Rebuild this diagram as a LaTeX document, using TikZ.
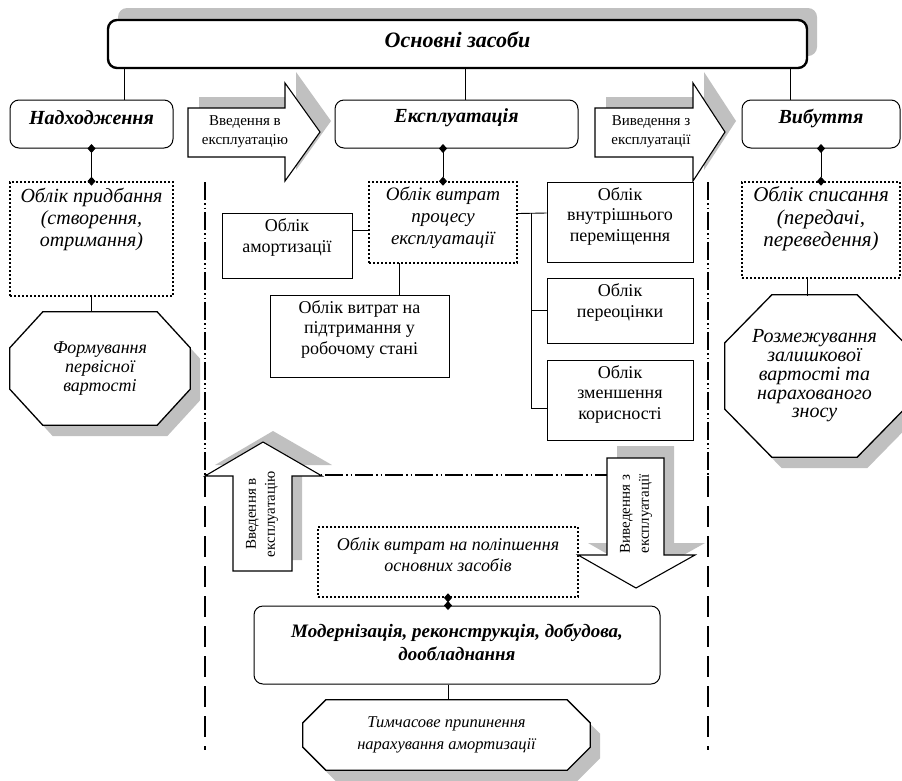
\documentclass[tikz,border=0pt]{standalone}
\usepackage{fontspec}
\setmainfont{Liberation Serif}
\usetikzlibrary{arrows.meta, calc, backgrounds, shadows}
\definecolor{ShadeGray}{HTML}{C0C0C0}
\newcommand\fTitle{\fontsize{22}{26}\selectfont\bfseries\itshape}
\newcommand\fHead{\fontsize{20}{24}\selectfont\bfseries\itshape}
\newcommand\fBold{\fontsize{19}{23}\selectfont\bfseries\itshape}
\newcommand\fIt{\fontsize{19}{22}\selectfont\itshape}
\newcommand\fRm{\fontsize{18}{20.5}\selectfont}
\newcommand\fArr{\fontsize{15}{19}\selectfont}
\newcommand\fOct{\fontsize{18}{19}\selectfont\itshape}
% octagon through the corners of a node
\newcommand\octagon[3]{($(#1.north west)+(#2,0)$) -- ($(#1.north east)+(-#2,0)$)
  -- ($(#1.north east)+(0,#3)$) -- ($(#1.south east)+(0,-#3)$)
  -- ($(#1.south east)+(-#2,0)$) -- ($(#1.south west)+(#2,0)$)
  -- ($(#1.south west)+(0,-#3)$) -- ($(#1.north west)+(0,#3)$) -- cycle}
% block arrows
\newcommand\arrowIn{(188,108) -- (285,108) -- (285,83) -- (320,132) -- (285,181) -- (285,157) -- (188,157) -- cycle}
\newcommand\arrowOut{(595,108) -- (693,108) -- (693,83) -- (725,132) -- (693,181) -- (693,157) -- (595,157) -- cycle}
\newcommand\arrowUp{(233,571) -- (233,476) -- (205,476) -- (263,442) -- (322,476) -- (292,476) -- (292,571) -- cycle}
\newcommand\arrowDown{(607,458) -- (664,458) -- (664,555) -- (695,555) -- (636,588) -- (578,555) -- (607,555) -- cycle}
\tikzset{
  titlebox/.style={draw, line width=2.4pt, rounded corners=9pt, fill=white,
    drop shadow={shadow xshift=10pt, shadow yshift=12pt, fill=ShadeGray, opacity=1}},
  headbox/.style={draw, line width=1pt, rounded corners=9pt, fill=white},
  dotbox/.style={draw, line width=1.6pt, dash pattern=on 1.6pt off 2.4pt, fill=white},
  plainbox/.style={draw, line width=1pt, fill=white},
  txt/.style={align=center, inner sep=0pt},
  hdtxt/.style={txt, font=\fHead},
  ittxt/.style={txt, font=\fIt},
  rmtxt/.style={txt, font=\fRm},
  arrtxt/.style={txt, font=\fArr},
  octbox/.style={txt, font=\fOct},
  link/.style={line width=0.9pt},
  dlink/.style={link, {Diamond[length=9pt,width=8pt]}-{Diamond[length=9pt,width=8pt]},
    shorten <=-4.5pt, shorten >=-4.5pt},
  zone/.style={line width=1.8pt, dash pattern=on 18pt off 3pt on 1.5pt off 3pt on 1.5pt off 3pt},
  zonedash/.style={line width=2pt, dash pattern=on 21pt off 9pt},
  blockarrow/.style={draw, line width=1.1pt, fill=white, line join=miter},
  greyback/.style={fill=ShadeGray},
}
\begin{document}
\begin{tikzpicture}[x=1pt, y=-1pt]
  \useasboundingbox (0,0) rectangle (902,780);

  % main level
  \node[titlebox, minimum width=699pt, minimum height=48pt,
    label={[txt, font=\fTitle, yshift=4pt]center:Основні засоби}] (os) at (457.5,44) {};
  \node[headbox, minimum width=163pt, minimum height=48pt,
    label={[hdtxt, yshift=6pt]center:Надходження}] (nadh) at (91.5,124) {};
  \node[headbox, minimum width=243pt, minimum height=48pt,
    label={[hdtxt, yshift=6pt]center:Експлуатація}] (expl) at (456.5,124) {};
  \node[headbox, minimum width=158pt, minimum height=48pt,
    label={[hdtxt, yshift=6pt]center:Вибуття}] (vyb) at (821,124) {};
  \draw[link] ([xshift=32.5pt]nadh.north) -- ++(0,-32);
  \draw[link] ([xshift=8.5pt]expl.north) -- ++(0,-32);
  \draw[link] ([xshift=-31pt]vyb.north) -- ++(0,-32);

  % accounting boxes
  \node[dotbox, minimum width=163pt, minimum height=114pt,
    label={[ittxt, font=\fontsize{20}{22}\selectfont\itshape, yshift=20pt]center:{Облік придбання\\(створення,\\отримання)}}] (zakup) at (91.5,239) {};
  \node[dotbox, minimum width=148pt, minimum height=81pt,
    label={[ittxt, yshift=5pt]center:{Облік витрат\\процесу\\експлуатації}}] (proc) at (443,222.5) {};
  \node[dotbox, minimum width=158pt, minimum height=96pt,
    label={[ittxt, font=\fontsize{21}{22.5}\selectfont\itshape, yshift=11pt]center:{Облік списання\\(передачі,\\переведення)}}] (spys) at (821,230) {};
  \draw[dlink] (nadh.south) -- (zakup.north);
  \draw[dlink] (proc.north |- expl.south) -- (proc.north);
  \draw[dlink] (vyb.south) -- (spys.north);

  \node[plainbox, minimum width=130pt, minimum height=65pt,
    label={[rmtxt, yshift=8pt]center:{Облік\\амортизації}}] (amort) at (287,245.5) {};
  \node[plainbox, minimum width=179pt, minimum height=82pt,
    label={[rmtxt, yshift=7pt]center:{Облік витрат на\\підтримання у\\робочому стані}}] (pidtr) at (359.5,336) {};
  \node[plainbox, minimum width=146pt, minimum height=80pt,
    label={[rmtxt, yshift=6pt]center:{Облік\\внутрішнього\\переміщення}}] (perem) at (620,222) {};
  \node[plainbox, minimum width=146pt, minimum height=65pt,
    label={[rmtxt, yshift=8pt]center:{Облік\\переоцінки}}] (pereots) at (620,310.5) {};
  \node[plainbox, minimum width=146pt, minimum height=80pt,
    label={[rmtxt, yshift=6pt]center:{Облік\\зменшення\\корисності}}] (zmensh) at (620,400) {};
  \draw[link] ([yshift=15pt]amort.east) -- ++(17,0);
  \draw[link] ([xshift=40pt]pidtr.north) -- ++(0,-32);
  \draw[link] ([yshift=9pt]proc.east) -- ([yshift=9pt]perem.west);
  \coordinate (bus) at ($(perem.west)+(-15,-9)$);
  \draw[link] (bus) |- ([yshift=-8pt]zmensh.west);
  \draw[link] (bus |- pereots.west) -- (pereots.west);

  % octagons
  \node[octbox, minimum width=180pt, minimum height=113pt] (octL) at (100,368.5) {Формування\\первісної\\вартості};
  \node[octbox, font=\fontsize{20}{18.8}\selectfont\itshape, minimum width=179pt, minimum height=162pt] (octR) at (814.5,376) {Розмежування\\залишкової\\вартості та\\нарахованого\\зносу};
  \node[octbox, font=\fontsize{16.5}{22}\selectfont\itshape, minimum width=287pt, minimum height=70pt] (octB) at (446.5,735) {Тимчасове припинення\\нарахування амортизації};
  \begin{scope}[on background layer]
    \fill[greyback, transform canvas={xshift=10pt, yshift=-11pt}] \octagon{octL}{33}{36};
    \draw[line width=1.3pt, fill=white] \octagon{octL}{33}{36};
    \fill[greyback, transform canvas={xshift=10pt, yshift=-11pt}] \octagon{octR}{47}{48};
    \draw[line width=1.3pt, fill=white] \octagon{octR}{47}{48};
    \fill[greyback, transform canvas={xshift=10pt, yshift=-11pt}] \octagon{octB}{23}{23};
    \draw[line width=1.3pt, fill=white] \octagon{octB}{23}{23};
  \end{scope}
  \draw[link] (zakup.south) -- (zakup.south |- octL.north);
  \draw[link] ([xshift=-14pt]spys.south) -- ++(0,17);

  % improvement
  \node[dotbox, minimum width=260pt, minimum height=70pt,
    label={[ittxt, font=\fontsize{18}{21}\selectfont\itshape, yshift=7pt]center:{Облік витрат на поліпшення\\основних засобів}}] (polip) at (448,562) {};
  \node[headbox, minimum width=406pt, minimum height=78pt,
    label={[txt, font=\fBold, yshift=3pt]center:{Модернізація, реконструкція, добудова,\\дообладнання}}] (modern) at (457,645) {};
  \draw[dlink] (polip.south) -- (polip.south |- modern.north);
  \draw[link] (polip.south |- modern.south) -- (polip.south |- octB.north);

  % exploitation zone
  \draw[zone] (205,182) -- (205,476);
  \draw[zone] (708,182) -- (708,476);
  \draw[zone] (205,475) -- (607,475);
  \draw[zonedash] (205,476) -- (205,750);
  \draw[zonedash] (708,476) -- (708,750);

  % block arrows
  \fill[greyback, transform canvas={xshift=11pt, yshift=11pt}] \arrowIn;
  \draw[blockarrow] \arrowIn;
  \node[arrtxt] (in) at (245,132) {Введення в\\експлуатацію};
  \fill[greyback, transform canvas={xshift=11pt, yshift=11pt}] \arrowOut;
  \draw[blockarrow] \arrowOut;
  \node[arrtxt] (out) at (651,132) {Виведення з\\експлуатації};
  \fill[greyback, transform canvas={xshift=10pt, yshift=11pt}] \arrowUp;
  \draw[blockarrow] \arrowUp;
  \node[arrtxt, rotate=90] (up) at (262,514) {Введення в\\експлуатацію};
  \fill[greyback, transform canvas={xshift=10pt, yshift=12pt}] \arrowDown;
  \draw[blockarrow] \arrowDown;
  \node[arrtxt, rotate=90] (down) at (636,514) {Виведення з\\експлуатації};
\end{tikzpicture}
\end{document}
